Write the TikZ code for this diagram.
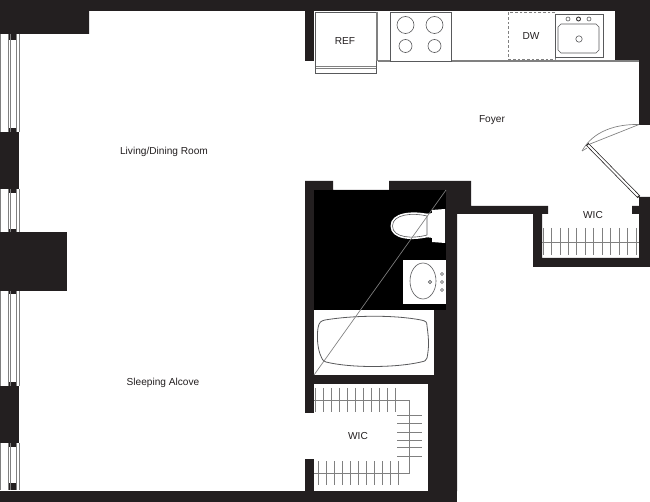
\documentclass[tikz,border=0pt]{standalone}
\usepackage{fontspec}
\setmainfont{Liberation Sans}
\definecolor{wallc}{HTML}{231F20}
\definecolor{linec}{HTML}{58595B}
\definecolor{hangc}{HTML}{808080}
\tikzset{
  wall/.style={fill=wallc,draw=none},
  fixture/.style={draw=linec,line width=0.55pt,fill=white},
  thin line/.style={draw=linec,line width=0.45pt},
  rod/.style={draw=hangc,line width=0.7pt},
  hanger/.style={draw=hangc,line width=0.6pt},
  glass/.style={draw=hangc,line width=0.7pt},
  room/.style={font=\fontsize{7.6pt}{9pt}\selectfont,text=wallc,inner sep=0pt}
}
\begin{document}
\begin{tikzpicture}[x=0.75pt,y=-0.75pt]
\useasboundingbox (0,0) rectangle (650,502);
\fill[white] (0,0) rectangle (650,502);
% outer walls
\fill[wall] (0,0) -- (650,0) -- (650,125) -- (639,125) -- (639,61) -- (615,61) -- (615,11) -- (89,11) -- (89,34) -- (0,34) -- cycle;
\fill[wall] (305,11) rectangle (314,61);
% left piers
\fill[wall] (8,34) rectangle (16,40);
\fill[wall] (8,128) rectangle (16,132);
\fill[wall] (0,132) rectangle (19,189);
\fill[wall] (8,189) rectangle (16,193);
\fill[wall] (8,229) rectangle (16,232);
\fill[wall] (0,232) rectangle (67,291);
\fill[wall] (8,291) rectangle (16,294);
\fill[wall] (8,382) rectangle (16,386);
\fill[wall] (0,386) rectangle (19,443);
\fill[wall] (8,443) rectangle (16,447);
\fill[wall] (8,483) rectangle (16,490);
\fill[wall] (0,490.5) rectangle (457,501.5);
% windows
\foreach \a/\b in {34/132,189/232,291/386,443/490}{
  \draw[glass] (8.5,\a) -- (8.5,\b);
  \draw[glass] (10.5,\a) -- (10.5,\b);
  \draw[glass] (16.5,\a) -- (16.5,\b);
  \draw[glass] (19,\a) -- (19,\b);
  \draw[glass] (0.4,\a) -- (0.4,\b);
}
% bathroom block and foyer closet walls
\fill[wall] (305,181) -- (333,181) -- (333,190) -- (389,190) -- (389,181) -- (471,181) -- (471,206) -- (548,206) -- (548,214) -- (542,214) -- (542,258) -- (639,258) -- (639,214) -- (632,214) -- (632,206) -- (639,206) -- (639,197) -- (650,197) -- (650,267) -- (533,267) -- (533,214) -- (457,214) -- (457,491) -- (428,491) -- (428,375) -- (314,375) -- (314,190) -- (305,190) -- cycle;
\fill[wall] (305,181) rectangle (314,413);
\fill[wall] (305,459) rectangle (314,491);
\fill[wall] (314,375) rectangle (434,384);
% bath interior
\fill[black] (314,190) rectangle (446,310);
\fill[white] (314,310) rectangle (434,375);
% sink vanity
\fill[white] (403,260) rectangle (446,304);
\draw[thin line] (423,281) ellipse (13 and 18);
\draw[thin line] (430,282) circle (1.6);
\draw[thin line] (442,274) circle (1.5);
\draw[thin line] (442,282) circle (1.5);
\draw[thin line] (442,290) circle (1.5);
% toilet
\fill[white] (432,210) -- (445,209) -- (445,243) -- (432,242) -- cycle;
\fill[white] (425,214) -- (433,213) -- (433,238) -- (425,237) -- cycle;
\fill[white] (428,214) .. controls (413,210.5) and (390.5,212) .. (390.5,226) .. controls (390.5,240) and (413,241) .. (428,237) -- cycle;
\draw[thin line] (427,216) .. controls (413,212.5) and (392.5,214) .. (392.5,226) .. controls (392.5,238) and (413,239) .. (427,235) -- cycle;
% tub
\draw[thin line,line width=0.6pt] (325,320) .. controls (355,315) and (395,315) .. (421,320) .. controls (426,321) and (427,322) .. (427,326) .. controls (429,340) and (429,348) .. (427,358) .. controls (426,361) and (425,361) .. (421,362) .. controls (395,368) and (350,368) .. (326,362) .. controls (322,361) and (322,358) .. (320,354) .. controls (317,345) and (317,335) .. (318,328) .. controls (319,322) and (321,321) .. (325,320) -- cycle;
% diagonal
\coordinate (diagA) at (446,190);
\coordinate (diagB) at (314,375);
\draw[hangc,line width=0.5pt] (diagA) -- (diagB);
% closet rods
\draw[rod] (314,400) -- (409,400) -- (409,473) -- (314,473);
\foreach \i in {0,...,10}{\draw[hanger] ({315+8*\i},388) -- ({315+8*\i},412);}
\foreach \yy in {415,423,432,440,447,456}{\draw[hanger] (397,\yy) -- (422,\yy);}
\foreach \i in {0,...,10}{\draw[hanger] ({318+8*\i},461) -- ({318+8*\i},485);}
\draw[rod] (542,242) -- (639,242);
\foreach \i in {0,...,11}{\draw[hanger] ({543+8.45*\i},228) -- ({543+8.45*\i},255);}
% kitchen
\draw[thin line,line width=0.8pt,draw=hangc] (378,61) -- (639,61);
\draw[fixture] (315.5,12.5) rectangle (376,73);
\draw[hangc,line width=1.4pt] (377,12) -- (377,61);
\draw[hangc,line width=0.6pt] (315.5,66.5) -- (376,66.5);
\draw[hangc,line width=0.6pt] (315.5,68.5) -- (376,68.5);
\draw[fixture] (390,12.5) rectangle (451,61);
\draw[thin line] (405.5,25) circle (8.5);
\draw[thin line] (434.5,25) circle (8.5);
\draw[thin line] (405.5,46) circle (6.5);
\draw[thin line] (434.5,46) circle (6.5);
\draw[draw=hangc,line width=0.6pt,dash pattern=on 2pt off 1.5pt] (508,12.5) rectangle (555,59);
\draw[fixture] (555,14) rectangle (603,57);
\draw[thin line] (561,24) -- (596,24) -- (599,27) -- (599,50) -- (596,53) -- (561,53) -- (558,50) -- (558,27) -- cycle;
\draw[thin line] (568,19) circle (2);
\draw[draw=wallc,line width=0.6pt] (578.5,19) circle (2);
\draw[thin line] (589,19) circle (2);
\draw[thin line] (579,39) circle (3.2);
% door
\coordinate (hingeA) at (639,197);
\coordinate (leafEnd) at (587,144);
\draw[draw=wallc,line width=2.6pt] (hingeA) -- (leafEnd);
\draw[draw=white,line width=1.5pt] (638,196) -- (588,145);
\draw[hangc,line width=0.5pt] (639,124.5) -- (590,144);
\draw[hangc,line width=0.5pt] (639,124.5) .. controls (616,124) and (593,131) .. (582,151);
\draw[hangc,line width=0.5pt] (582,151) -- (587,148);
% labels
\node[room] (living) at (164,152) {Living/Dining Room};
\node[room] (foyer) at (492,120) {Foyer};
\node[room] (alcove) at (163,383) {Sleeping Alcove};
\node[room] (wicA) at (593,215) {WIC};
\node[room] (wicB) at (358,436) {WIC};
\node[room] (ref) at (345,41.5) {REF};
\node[room] (dw) at (531,36) {DW};
\end{tikzpicture}
\end{document}
